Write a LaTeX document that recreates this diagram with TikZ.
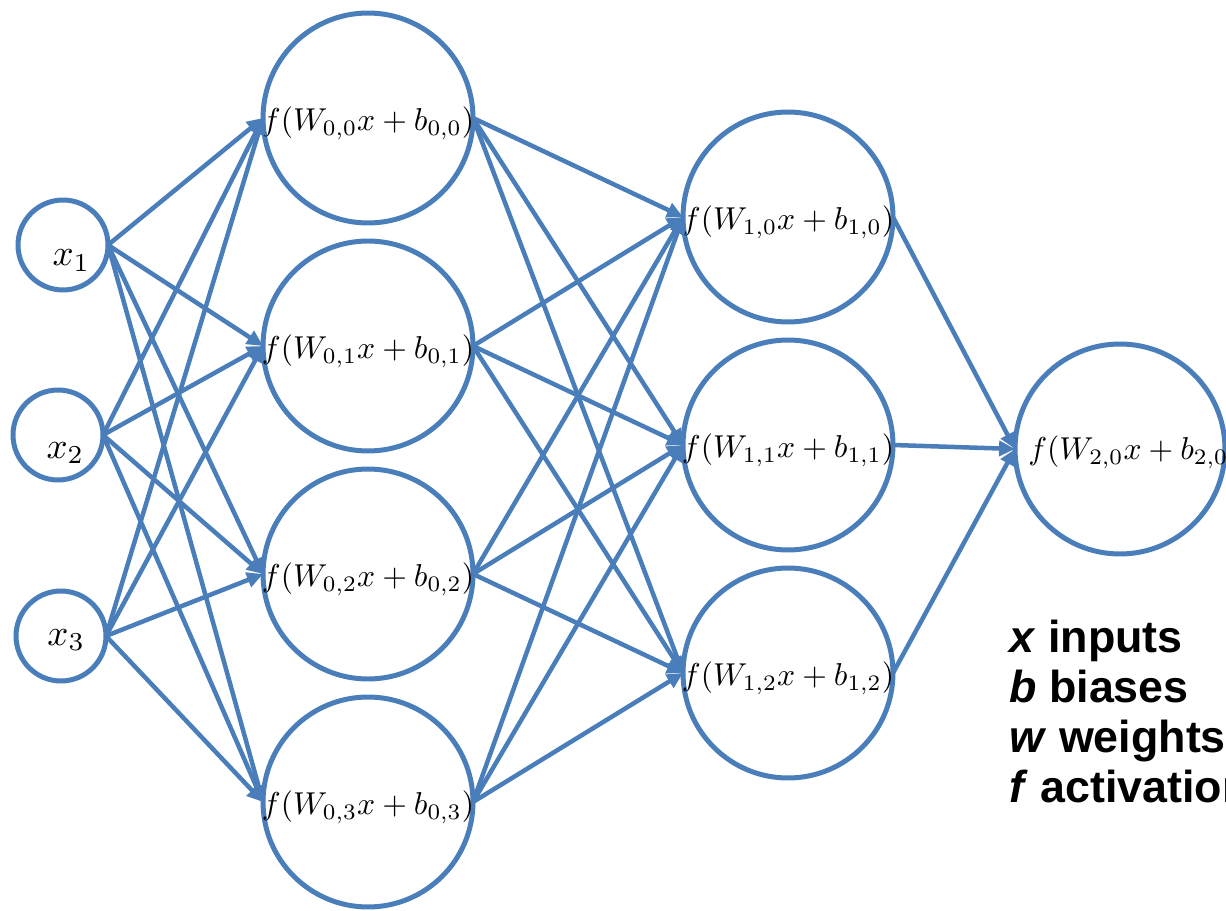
\documentclass[tikz,border=0pt]{standalone}
\usepackage{fontspec}
\newfontfamily\legendfont{Liberation Sans}
\usetikzlibrary{arrows.meta}
\definecolor{netblue}{RGB}{74,126,187}
\begin{document}
\begin{tikzpicture}[x=0.02cm,y=-0.02cm,
  unitcirc/.style={circle,draw=netblue,line width=0.1cm,inner sep=0pt,outer sep=0pt,minimum size=4.2cm},
  inputcirc/.style={circle,draw=netblue,line width=0.1cm,inner sep=0pt,outer sep=0pt,minimum size=1.8cm},
  wire/.style={draw=netblue,line width=0.09cm,-{Triangle[length=0.32cm,width=0.3cm]}},
  mathlabel/.style={scale=1.8,inner sep=0pt},
  inputlabel/.style={scale=2.1,inner sep=0pt},
  legendline/.style={anchor=base west,inner sep=0pt,font=\legendfont\bfseries\fontsize{25.5}{28}\selectfont}
]
\useasboundingbox (0,0) rectangle (1226,911);

% input layer
\node[inputcirc,label={[inputlabel,xshift=0.08cm,yshift=-0.15cm]center:$x_1$}] (in1) at (63,245) {};
\node[inputcirc,label={[inputlabel,xshift=0.07cm,yshift=-0.17cm]center:$x_2$}] (in2) at (58,435) {};
\node[inputcirc,label={[inputlabel,xshift=0.05cm,yshift=-0.04cm]center:$x_3$}] (in3) at (61,636) {};

% first hidden layer
\foreach \j/\y in {0/118,1/346,2/574,3/802}
  \node[unitcirc,label={[mathlabel,yshift=-0.06cm]center:$f(W_{0,\j}x+b_{0,\j})$}] (h0\j) at (368,\y) {};

% second hidden layer
\foreach \j/\y in {0/217,1/445,2/673}
  \node[unitcirc,label={[mathlabel,yshift=-0.06cm]center:$f(W_{1,\j}x+b_{1,\j})$}] (h1\j) at (788,\y) {};

% output unit, its label running past the right edge
\node[unitcirc,label={[mathlabel,xshift=0.16cm,yshift=-0.04cm]center:$f(W_{2,0}x+b_{2,0})$}] (out) at (1120,449) {};

% connections
\foreach \i in {1,2,3}
  \foreach \j in {0,1,2,3}
    \draw[wire] (in\i.east) -- (h0\j.west);
\foreach \i in {0,1,2,3}
  \foreach \j in {0,1,2}
    \draw[wire] (h0\i.east) -- (h1\j.west);
\foreach \j in {0,1,2}
  \draw[wire] (h1\j.east) -- (out.west);

% legend
\node[legendline] (lgx) at (1009,652) {\textit{x} inputs};
\node[legendline] (lgb) at (1009,702) {\textit{b} biases};
\node[legendline] (lgw) at (1009,752) {\textit{w} weights};
\node[legendline] (lgf) at (1009,802) {\textit{f} activation};
\end{tikzpicture}
\end{document}
